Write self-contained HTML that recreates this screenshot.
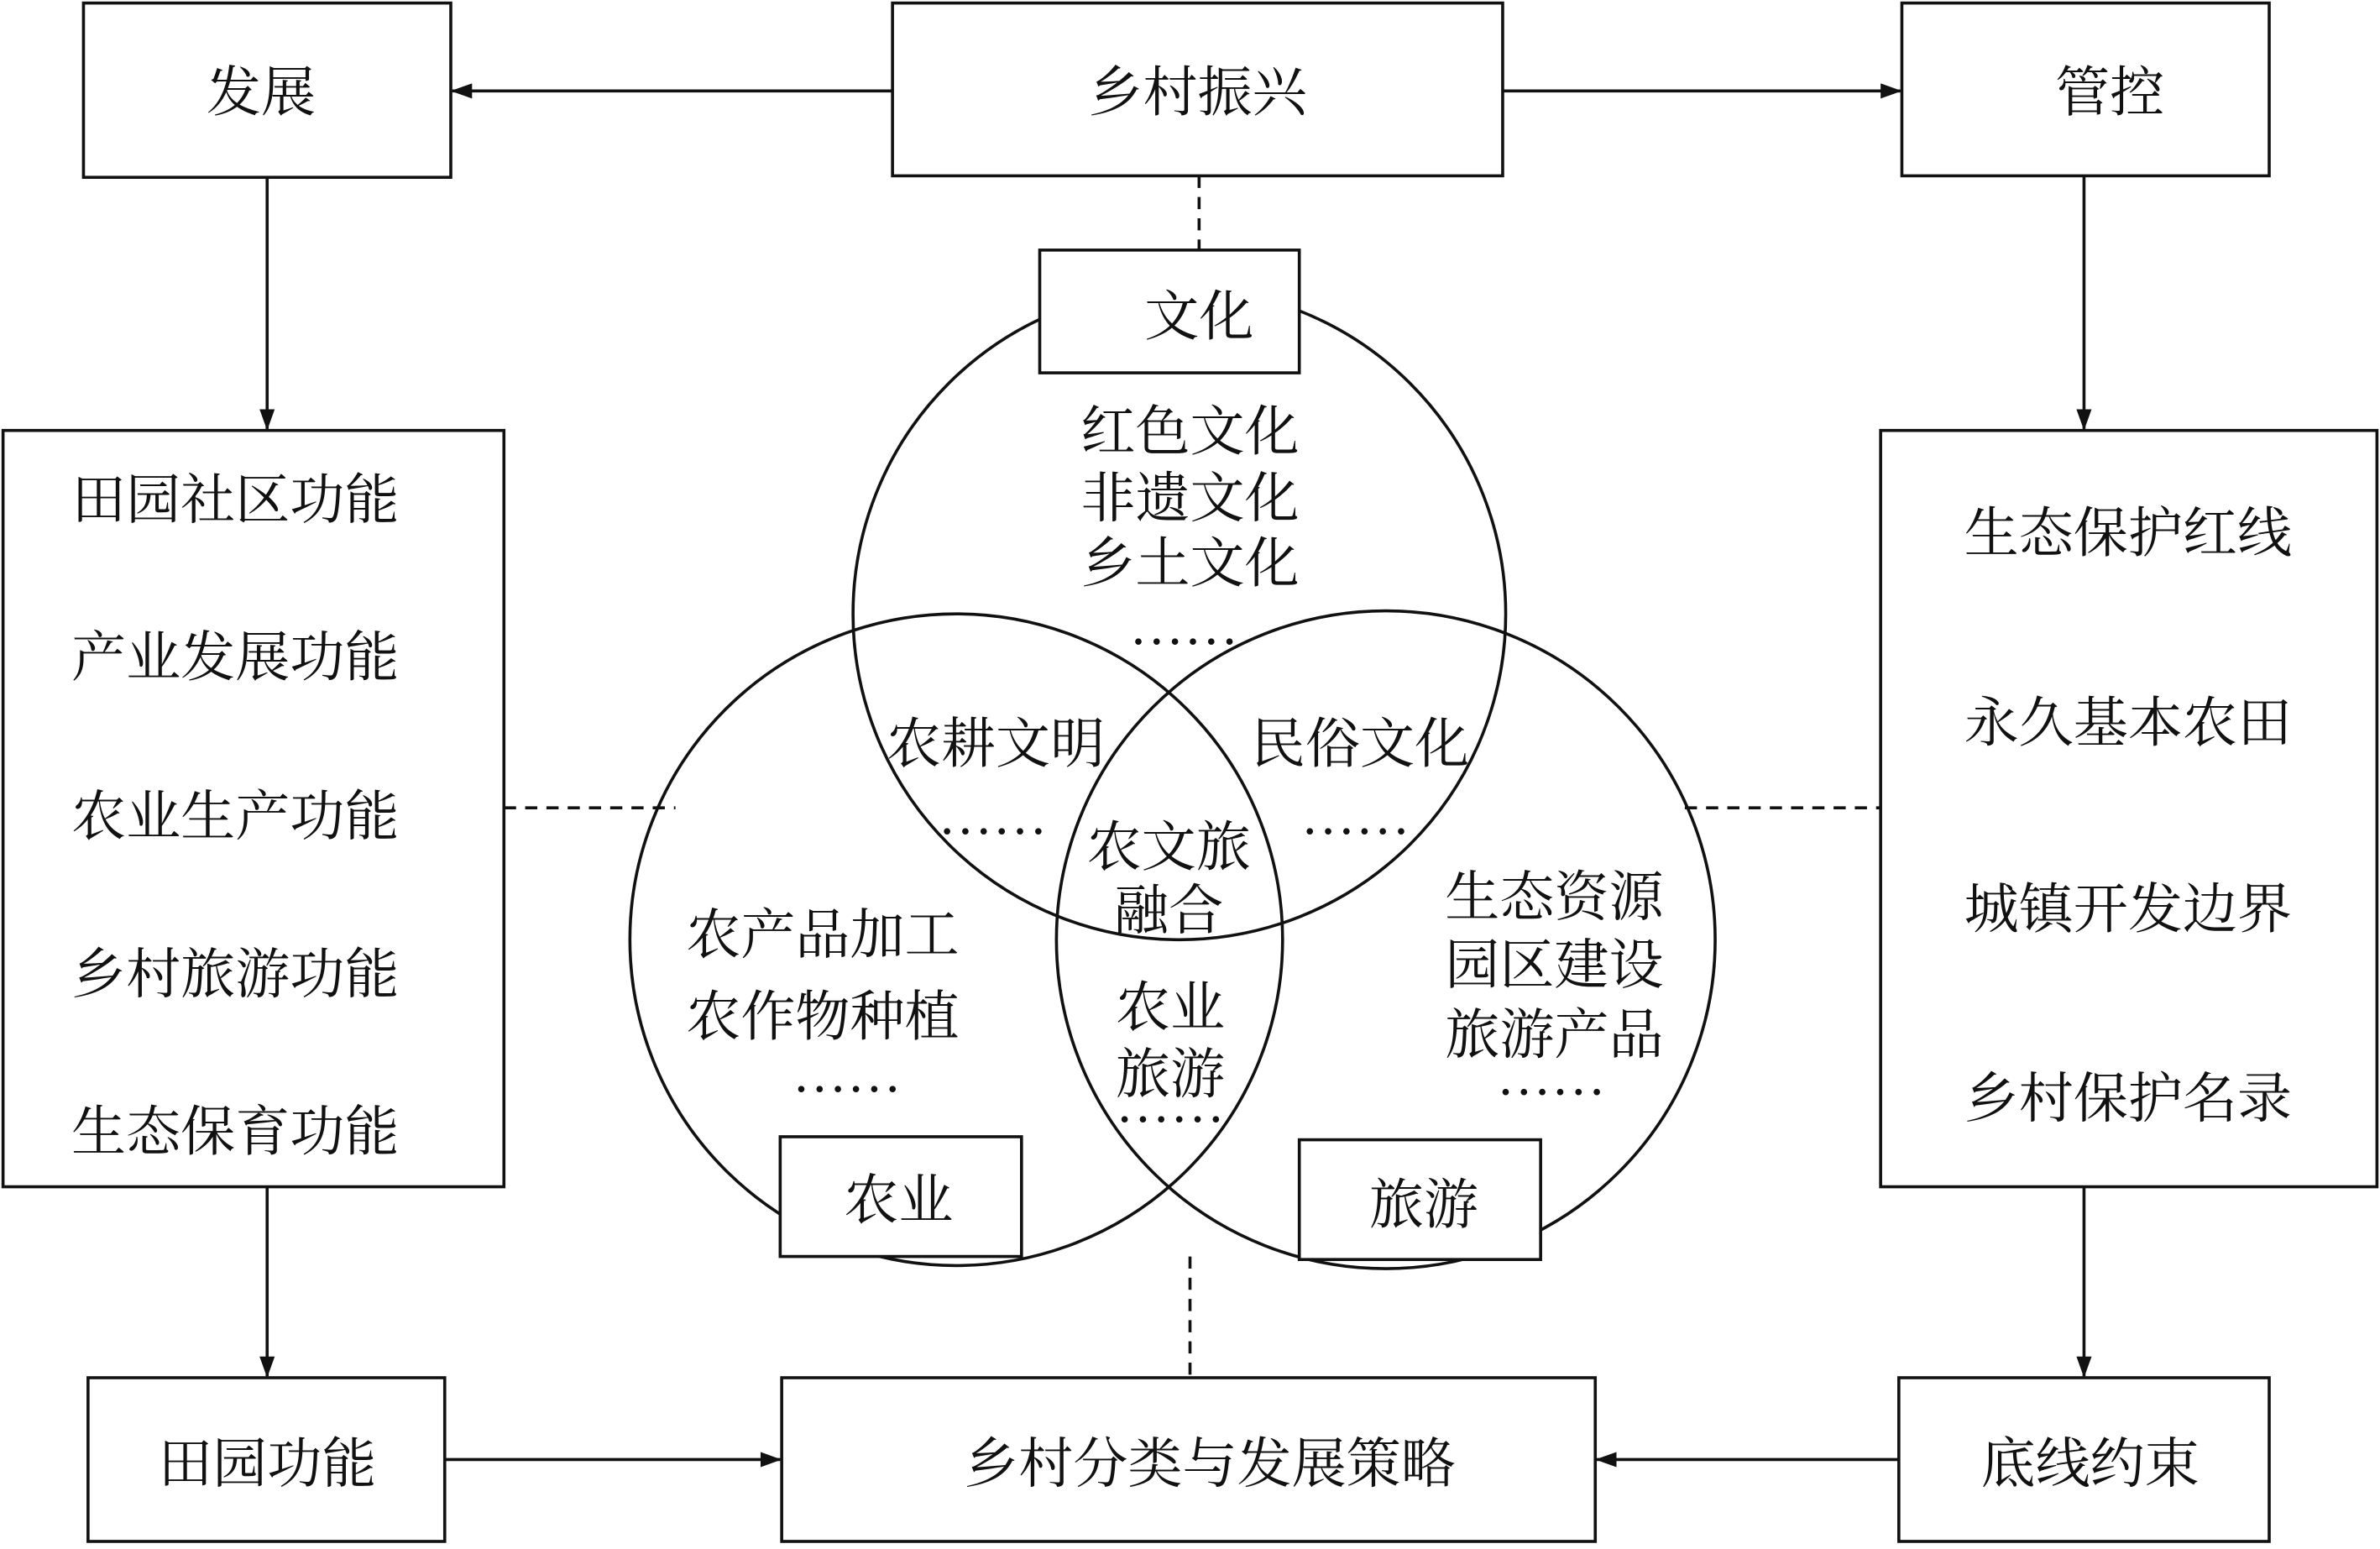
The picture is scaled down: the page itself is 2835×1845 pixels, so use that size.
<!DOCTYPE html>
<html><head><meta charset="utf-8"><style>
html,body{margin:0;padding:0;background:#fff;}
svg{display:block;}
text{font-family:"Liberation Serif","Noto Serif CJK SC","Noto Sans CJK SC",serif;fill:#111;}
</style></head><body>
<svg width="2835" height="1845" viewBox="0 0 1568 1022" preserveAspectRatio="none" xmlns="http://www.w3.org/2000/svg">
<defs><marker id="a" markerWidth="14" markerHeight="10" refX="13" refY="5" orient="auto" markerUnits="userSpaceOnUse"><path d="M0,0 L14,5 L0,10 Z" fill="#111"/></marker></defs>
<g fill="none" stroke="#111" stroke-width="2">
<circle cx="777" cy="405" r="215"/>
<circle cx="630" cy="620" r="215"/>
<circle cx="913" cy="620" r="217"/>
</g>
<g fill="#fff" stroke="#111" stroke-width="2">
<rect x="55" y="2" width="242" height="115"/>
<rect x="588" y="2" width="402" height="114"/>
<rect x="1253" y="2" width="242" height="114"/>
<rect x="2" y="284" width="330" height="499"/>
<rect x="1239" y="284" width="327" height="499"/>
<rect x="58" y="909" width="235" height="108"/>
<rect x="515" y="909" width="536" height="108"/>
<rect x="1251" y="909" width="244" height="108"/>
<rect x="685" y="165" width="171" height="81"/>
<rect x="514" y="750" width="159" height="79"/>
<rect x="856" y="752" width="159" height="79"/>
</g>
<g stroke="#111" stroke-width="2" fill="none" marker-end="url(#a)">
<line x1="588" y1="60" x2="298" y2="60"/>
<line x1="990" y1="60" x2="1252" y2="60"/>
<line x1="176" y1="117" x2="176" y2="283"/>
<line x1="1373" y1="116" x2="1373" y2="283"/>
<line x1="176" y1="783" x2="176" y2="908"/>
<line x1="1373" y1="783" x2="1373" y2="908"/>
<line x1="293" y1="963" x2="514" y2="963"/>
<line x1="1251" y1="963" x2="1052" y2="963"/>
</g>
<g stroke="#111" stroke-width="2" stroke-dasharray="8,6">
<line x1="790" y1="116" x2="790" y2="165"/>
<line x1="784" y1="829" x2="784" y2="909"/>
<line x1="332" y1="533" x2="445" y2="533"/>
<line x1="1110" y1="533" x2="1239" y2="533"/>
</g>
<g font-size="36" text-anchor="middle">
<text x="172" y="73">发展</text>
<text x="789" y="73">乡村振兴</text>
<text x="1390" y="73">管控</text>
<text x="790" y="221">文化</text>
<text x="592" y="804">农业</text>
<text x="938" y="807">旅游</text>
<text x="176" y="978">田园功能</text>
<text x="797" y="978">乡村分类与发展策略</text>
<text x="1377" y="978">底线约束</text>
<text x="155" y="342">田园社区功能</text>
<text x="155" y="446">产业发展功能</text>
<text x="155" y="551">农业生产功能</text>
<text x="155" y="655">乡村旅游功能</text>
<text x="155" y="759">生态保育功能</text>
<text x="1402" y="364">生态保护红线</text>
<text x="1402" y="489">永久基本农田</text>
<text x="1402" y="612">城镇开发边界</text>
<text x="1402" y="737">乡村保护名录</text>
<text x="784" y="297">红色文化</text>
<text x="784" y="341">非遗文化</text>
<text x="784" y="384">乡土文化</text>
<text x="780" y="425">……</text>
<text x="656" y="503">农耕文明</text>
<text x="654" y="550">……</text>
<text x="896" y="503">民俗文化</text>
<text x="893" y="550">……</text>
<text x="770" y="571">农文旅</text>
<text x="770" y="613">融合</text>
<text x="542" y="629">农产品加工</text>
<text x="542" y="683">农作物种植</text>
<text x="558" y="720">……</text>
<text x="771" y="677">农业</text>
<text x="771" y="721">旅游</text>
<text x="771" y="740">……</text>
<text x="1024" y="604">生态资源</text>
<text x="1024" y="649">园区建设</text>
<text x="1024" y="695">旅游产品</text>
<text x="1022" y="722">……</text>
</g>
</svg>
</body></html>
